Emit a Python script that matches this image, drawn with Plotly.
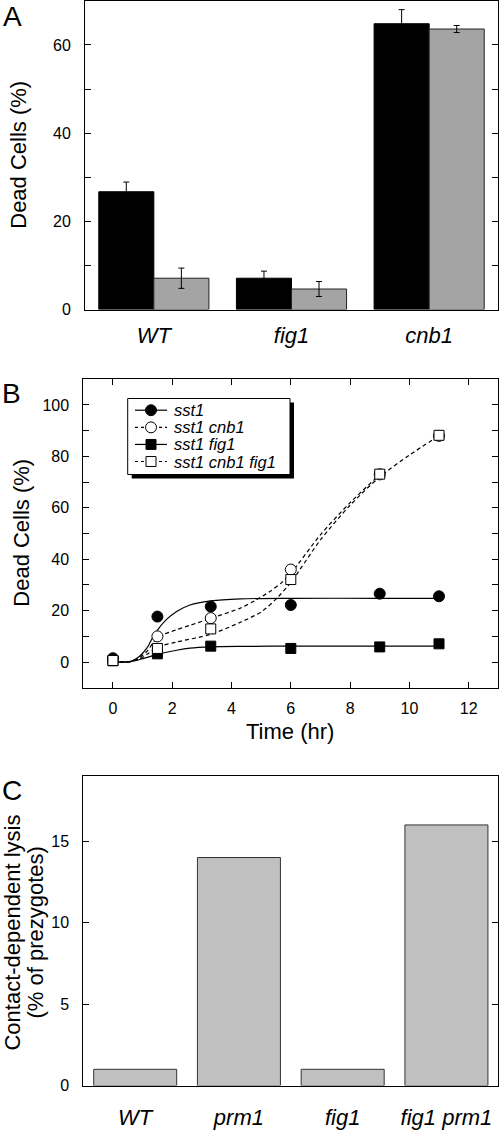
import plotly.graph_objects as go

W, H = 500, 1132
FONT = "Liberation Sans, Arial, Helvetica, sans-serif"

# ---------------- Panel A data ----------------
a_categories = ["WT", "fig1", "cnb1"]
a_black = [26.7, 7.1, 64.8]
a_black_err = [2.2, 1.6, 3.2]
a_gray = [7.1, 4.65, 63.6]
a_gray_err = [2.3, 1.7, 0.8]

# ---------------- Panel B data ----------------
b_time = [0, 1.5, 3.3, 6, 9, 11]
b_sst1 = [1.5, 17.7, 21.6, 22.2, 26.6, 25.6]
b_sst1_cnb1 = [0.8, 10.0, 17.1, 36.0, 73.0, 88.0]
b_sst1_fig1 = [0.5, 3.2, 6.2, 5.3, 5.9, 7.1]
b_sst1_cnb1_fig1 = [0.6, 5.3, 12.9, 32.1, 73.1, 88.2]

# fitted curves
fit_sst1_x = [0, 0.6, 0.9, 1.15, 1.3, 1.5, 1.8, 2.15, 2.6, 3.3, 4.3, 6, 9, 11]
fit_sst1_y = [0, 0.3, 2.3, 5.5, 8.7, 12.4, 16.5, 19.7, 22.2, 23.8, 24.6, 24.8, 24.8, 24.8]
fit_sst1_cnb1_x = [0, 0.6, 0.9, 1.15, 1.5, 2.15, 2.6, 3.3, 4.3, 4.8, 5.3, 5.7, 6, 7, 8, 8.9]
fit_sst1_cnb1_y = [0, 0.3, 1.8, 4.2, 9.5, 12.6, 14.3, 17.0, 21.0, 24.0, 27.5, 31.0, 34.5, 49.5, 62.0, 71.8]
fit_sst1_fig1_x = [0, 0.6, 0.9, 1.15, 1.5, 2.15, 2.6, 3.3, 4.3, 6, 9, 11]
fit_sst1_fig1_y = [0, 0.2, 1.0, 1.8, 3.0, 4.6, 5.4, 5.9, 6.1, 6.2, 6.2, 6.2]
fit_sst1_cnb1_fig1_x = [0, 0.6, 0.9, 1.15, 1.5, 2.15, 3.3, 4.3, 5, 5.5, 6, 7, 8, 9, 10, 11]
fit_sst1_cnb1_fig1_y = [0, 0.2, 1.2, 3.0, 5.8, 7.8, 10.8, 15.5, 19.5, 24.5, 31.0, 47.5, 61.0, 72.0, 80.5, 88.0]

b_series_names = ["sst1", "sst1 cnb1", "sst1 fig1", "sst1 cnb1 fig1"]

# ---------------- Panel C data ----------------
c_categories = ["WT", "prm1", "fig1", "fig1 prm1"]
c_values = [1.0, 14.0, 1.0, 16.0]


def px_x(p):
    return p / W


def px_y(p):
    return 1 - p / H


fig = go.Figure()

# ---- Panel A bars ----
fig.add_trace(go.Bar(
    x=a_categories, y=a_black, xaxis="x", yaxis="y",
    marker=dict(color="black", line=dict(color="black", width=1)),
    error_y=dict(type="data", array=a_black_err, color="black", thickness=1, width=3),
    offsetgroup="1", showlegend=False))
fig.add_trace(go.Bar(
    x=a_categories, y=a_gray, xaxis="x", yaxis="y",
    marker=dict(color="#a4a4a4", line=dict(color="#222222", width=1)),
    error_y=dict(type="data", array=a_gray_err, color="black", thickness=1, width=3),
    offsetgroup="2", showlegend=False))

# ---- Panel B fitted curves ----
solid = dict(color="black", width=1.2)
dashed = dict(color="black", width=1.2, dash="4px,3px")
for fx, fy, ln in [(fit_sst1_x, fit_sst1_y, solid),
                   (fit_sst1_fig1_x, fit_sst1_fig1_y, solid),
                   (fit_sst1_cnb1_x, fit_sst1_cnb1_y, dashed),
                   (fit_sst1_cnb1_fig1_x, fit_sst1_cnb1_fig1_y, dashed)]:
    fig.add_trace(go.Scatter(x=fx, y=fy, mode="lines", line=dict(shape="spline", smoothing=0.8, **ln),
                             xaxis="x2", yaxis="y2", showlegend=False, hoverinfo="skip"))

# ---- Panel B markers ----
fig.add_trace(go.Scatter(x=b_time, y=b_sst1, mode="markers", xaxis="x2", yaxis="y2",
                         marker=dict(symbol="circle", size=11, color="black", line=dict(color="black", width=1)),
                         name=b_series_names[0], showlegend=False))
fig.add_trace(go.Scatter(x=b_time, y=b_sst1_fig1, mode="markers", xaxis="x2", yaxis="y2",
                         marker=dict(symbol="square", size=10, color="black", line=dict(color="black", width=1)),
                         name=b_series_names[2], showlegend=False))
fig.add_trace(go.Scatter(x=b_time, y=b_sst1_cnb1, mode="markers", xaxis="x2", yaxis="y2",
                         marker=dict(symbol="circle", size=11, color="white", line=dict(color="black", width=1)),
                         name=b_series_names[1], showlegend=False))
fig.add_trace(go.Scatter(x=b_time, y=b_sst1_cnb1_fig1, mode="markers", xaxis="x2", yaxis="y2",
                         marker=dict(symbol="square", size=10, color="white", line=dict(color="black", width=1)),
                         name=b_series_names[3], showlegend=False))

# ---- Panel C bars ----
fig.add_trace(go.Bar(x=c_categories, y=c_values, xaxis="x3", yaxis="y3", width=0.8,
                     marker=dict(color="#c0c0c0", line=dict(color="#333333", width=1)),
                     showlegend=False))

# ---------------- Axes ----------------
tickfont = dict(family=FONT, size=16, color="black")
catfont = dict(family=FONT, size=22, color="black")
common_line = dict(showline=True, linecolor="black", linewidth=1, mirror=True,
                   showgrid=False, zeroline=False)

layout = dict(
    width=W, height=H, margin=dict(l=0, r=0, t=0, b=0),
    paper_bgcolor="white", plot_bgcolor="white",
    font=dict(family=FONT, color="black"),
    barmode="group", bargap=0.2, bargroupgap=0,
    showlegend=False,
    xaxis=dict(domain=[px_x(85), px_x(498)], anchor="y", range=[-0.5, 2.5], type="category",
               tickvals=a_categories, ticktext=["<i>%s</i>" % c for c in a_categories],
               ticks="", tickfont=catfont, ticklabelstandoff=6, **common_line),
    yaxis=dict(domain=[px_y(312), px_y(0.8)], anchor="x", range=[0, 70],
               tickvals=[0, 20, 40, 60], ticks="inside", ticklen=6, tickcolor="black",
               minor=dict(dtick=10, tick0=0, ticks="inside", ticklen=6, tickcolor="black"),
               tickfont=tickfont, ticklabelstandoff=10, **{**common_line, "mirror": "ticks"}),
    xaxis2=dict(domain=[px_x(83.3), px_x(498.3)], anchor="y2", range=[-1, 13],
                tickvals=[0, 2, 4, 6, 8, 10, 12], ticks="inside", ticklen=6, tickcolor="black",
                tickfont=tickfont, ticklabelstandoff=6, **{**common_line, "mirror": "ticks"}),
    yaxis2=dict(domain=[px_y(693.3), px_y(382.3)], anchor="x2", range=[-10, 110],
                tickvals=[0, 20, 40, 60, 80, 100], ticks="inside", ticklen=6, tickcolor="black",
                minor=dict(dtick=10, tick0=0, ticks="inside", ticklen=6, tickcolor="black"),
                tickfont=tickfont, ticklabelstandoff=10, **{**common_line, "mirror": "ticks"}),
    xaxis3=dict(domain=[px_x(83.3), px_x(498.3)], anchor="y3", range=[-0.5, 3.5], type="category",
                tickvals=c_categories, ticktext=["<i>%s</i>" % c for c in c_categories],
                ticks="", tickfont=catfont, ticklabelstandoff=12, **common_line),
    yaxis3=dict(domain=[px_y(1094.3), px_y(782.3)], anchor="x3", range=[0, 19],
                tickvals=[0, 5, 10, 15], ticks="inside", ticklen=6, tickcolor="black",
                tickfont=tickfont, ticklabelstandoff=10, **{**common_line, "mirror": "ticks"}),
)
fig.update_layout(**layout)

annotations = []


def ann(text, x, y, size, angle=0, xanchor="center", yanchor="middle"):
    annotations.append(dict(text=text, x=px_x(x), y=px_y(y), xref="paper", yref="paper",
                            showarrow=False, textangle=angle, xanchor=xanchor, yanchor=yanchor,
                            font=dict(family=FONT, size=size, color="black")))


# panel letters
ann("A", 12, 17, 28)
ann("B", 11, 397, 28)
ann("C", 12, 797, 28)
# axis titles
ann("Dead Cells (%)", 19, 156, 22, angle=-90)
ann("Dead Cells (%)", 22, 537, 22, angle=-90)
ann("Time (hr)", 290, 737, 22)
ann("Contact-dependent lysis", 13, 940, 22, angle=-90)
ann("(% of prezygotes)", 36, 940, 22, angle=-90)

# ---------------- Legend (panel B) ----------------
shapes = []
lx0, lx1, ly0, ly1 = 127.7, 290, 401.7, 478.3
sh = 4
shapes.append(dict(type="rect", xref="paper", yref="paper", x0=px_x(lx0 + sh), x1=px_x(lx1 + sh),
                   y0=px_y(ly1 + sh), y1=px_y(ly0 + sh), fillcolor="black", line=dict(width=0)))
shapes.append(dict(type="rect", xref="paper", yref="paper", x0=px_x(lx0), x1=px_x(lx1),
                   y0=px_y(ly1), y1=px_y(ly0), fillcolor="white", line=dict(color="black", width=1)))
row_y = [413.5, 430.8, 448.0, 465.2]
legend_styles = [("circle", "black", "solid"), ("circle", "white", "dash"),
                 ("square", "black", "solid"), ("square", "white", "dash")]
for name, ry, (sym, fill, dsh) in zip(b_series_names, row_y, legend_styles):
    shapes.append(dict(type="line", xref="paper", yref="paper", x0=px_x(135), x1=px_x(167),
                       y0=px_y(ry), y1=px_y(ry),
                       line=dict(color="black", width=1.2, dash="solid" if dsh == "solid" else "3px,3px")))
    if sym == "circle":
        r = 5.5
        shapes.append(dict(type="circle", xref="paper", yref="paper", x0=px_x(151 - r), x1=px_x(151 + r),
                           y0=px_y(ry + r), y1=px_y(ry - r), fillcolor=fill, line=dict(color="black", width=1)))
    else:
        r = 5
        shapes.append(dict(type="rect", xref="paper", yref="paper", x0=px_x(151 - r), x1=px_x(151 + r),
                           y0=px_y(ry + r), y1=px_y(ry - r), fillcolor=fill, line=dict(color="black", width=1)))
    ann("<i>%s</i>" % name, 172, ry, 16.5, xanchor="left")

fig.update_layout(annotations=annotations, shapes=shapes)
fig.write_html(
    "out.html",
    config={"displayModeBar": False},
    post_script="document.body.style.margin='0';document.body.style.padding='0';"
                "document.documentElement.style.overflow='hidden';document.body.style.overflow='hidden';",
)
